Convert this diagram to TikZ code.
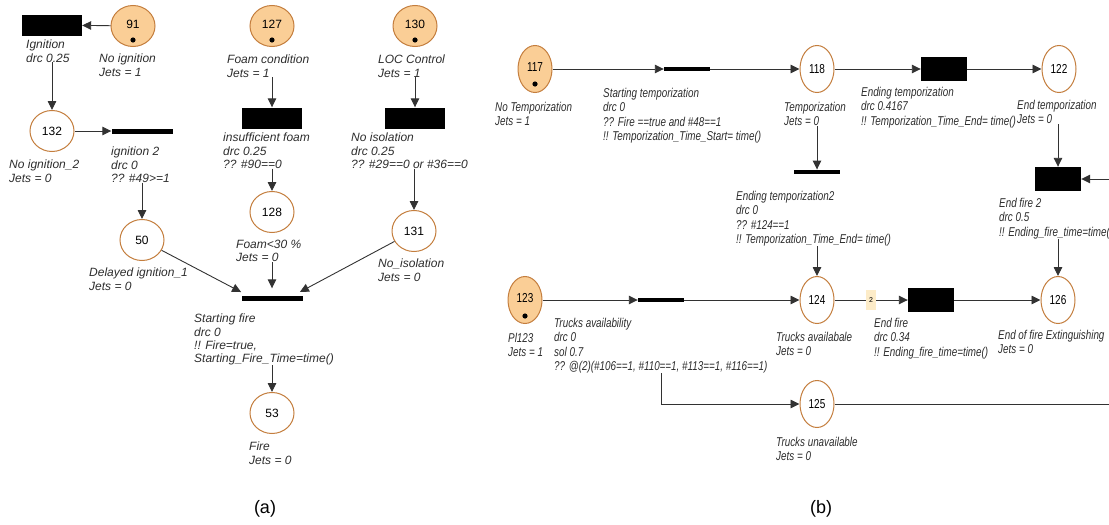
\documentclass[tikz,border=0pt]{standalone}
\usepackage{fontspec}
\setmainfont{Liberation Sans}
\newfontfamily\narrowsf[FakeStretch=0.77]{Liberation Sans}
\usetikzlibrary{shapes.geometric,arrows.meta}
\definecolor{placeline}{RGB}{196,126,62}
\definecolor{placefill}{RGB}{250,206,150}
\definecolor{arcgray}{RGB}{50,50,50}
\definecolor{txtgray}{RGB}{45,45,45}
\definecolor{wtfill}{RGB}{253,236,200}

\begin{document}
\begin{tikzpicture}[x=1pt,y=-1pt,
  arc/.style={draw=arcgray,line width=0.9pt,-{Triangle[length=9pt,width=8.5pt]}},
  place node/.style={ellipse,draw=placeline,line width=1pt,fill=white,minimum width=44pt,minimum height=41pt,inner sep=0pt,font=\fontsize{12}{14}\selectfont},
  tall place/.style={place node,minimum width=34pt,minimum height=47pt,font=\narrowsf\fontsize{13}{14}\selectfont},
  box node/.style={fill=black,minimum width=60pt,minimum height=21pt,inner sep=0pt},
  bar node/.style={fill=black,minimum width=61pt,minimum height=5pt,inner sep=0pt},
  small box/.style={box node,minimum width=46pt,minimum height=24pt},
  small bar/.style={bar node,minimum width=46pt,minimum height=4.5pt},
  text node/.style={anchor=north west,inner sep=0pt,align=left,text=txtgray,font=\fontsize{12}{13.2}\selectfont\itshape},
  narrow text/.style={text node,font=\narrowsf\fontsize{12.8}{14.3}\selectfont\itshape},
  weight node/.style={fill=wtfill,minimum width=10pt,minimum height=20pt,inner sep=0pt,font=\fontsize{7}{8}\selectfont},
  caption node/.style={font=\fontsize{18}{20}\selectfont}]

\useasboundingbox (0,0) rectangle (1109,525);
\clip (0,0) rectangle (1109,525);

% (a)
\node[box node] (t1) at (52,25) {};
\node[text node] (l1) at (26,40) {Ignition\\drc 0.25};
\node[place node,fill=placefill] (91) at (133,26) {\raisebox{3pt}{91}};
\node[text node] (l91) at (99,54) {No ignition\\Jets = 1};
\node[place node] (132) at (52,131) {132};
\node[text node] (l132) at (9,160) {No ignition\_2\\Jets = 0};
\node[bar node] (t2) at (142,131) {};
\node[text node] (l2) at (111,147) {ignition 2\\drc 0\\?? \#49>=1};
\node[place node] (50) at (142,240) {50};
\node[text node] (l50) at (89,268) {Delayed ignition\_1\\Jets = 0};
\node[place node,fill=placefill] (127) at (272,26) {\raisebox{3pt}{127}};
\node[text node] (l127) at (227,55) {Foam condition\\Jets = 1};
\node[box node] (t3) at (272,118) {};
\node[text node] (l3) at (223,133) {insufficient foam\\drc 0.25\\?? \#90==0};
\node[place node] (128) at (272,212) {128};
\node[text node] (l128) at (236,240) {Foam<30 \%\\Jets = 0};
\node[place node,fill=placefill] (130) at (415,26) {\raisebox{3pt}{130}};
\node[text node] (l130) at (378,55) {LOC Control\\Jets = 1};
\node[box node] (t4) at (415,118) {};
\node[text node] (l4) at (351,133) {No isolation\\drc 0.25\\?? \#29==0 or \#36==0};
\node[place node] (131) at (414,231) {131};
\node[text node] (l131) at (378,259) {No\_isolation\\Jets = 0};
\node[bar node] (t5) at (272,298) {};
\node[text node] (l5) at (194,314) {Starting fire\\drc 0\\!! Fire=true,\\Starting\_Fire\_Time=time()};
\node[place node] (53) at (272,413) {53};
\node[text node] (l53) at (249,442) {Fire\\Jets = 0};
\node[caption node] (capa) at (265,509) {(a)};

\fill (91) ++(0,14) circle (2.6pt);
\fill (127) ++(0,14) circle (2.6pt);
\fill (130) ++(0,14) circle (2.6pt);

\draw[arc] (91) -- (t1);
\draw[arc] (l1.south -| t1) -- (132);
\draw[arc] (132) -- (t2);
\draw[arc] (l2.south -| t2) -- (50);
\draw[arc] (l127.south -| t3) -- (t3);
\draw[arc] (l3.south -| t3) -- (128);
\draw[arc] (l130.south -| t4) -- (t4);
\draw[arc] (l4.south -| 131) -- (131);
\draw[arc,shorten >=7pt] (50) -- ([xshift=6pt]t5.north west);
\draw[arc,shorten >=7pt] (l128.south -| t5) -- (t5);
\draw[arc,shorten >=7pt] (131) -- ([xshift=-9pt]t5.north east);
\draw[arc] (l5.south -| t5) -- (53);

% (b)
\node[tall place,fill=placefill] (117) at (535,69) {\raisebox{4pt}{117}};
\node[narrow text] (l117) at (495,102) {No Temporization\\Jets = 1};
\node[small bar] (t6) at (687,69) {};
\node[narrow text] (l6) at (603,88) {Starting temporization\\drc 0\\?? Fire ==true and \#48==1\\!! Temporization\_Time\_Start= time()};
\node[tall place] (118) at (817,69) {118};
\node[narrow text] (l118) at (784,102) {Temporization\\Jets = 0};
\node[small box] (t7) at (944,69) {};
\node[narrow text] (l7) at (861,87) {Ending temporization\\drc 0.4167\\!! Temporization\_Time\_End= time()};
\node[tall place] (122) at (1059,69) {122};
\node[narrow text] (l122) at (1017,100) {End temporization\\Jets = 0};
\node[small bar] (t8) at (817,172) {};
\node[narrow text] (l8) at (736,191) {Ending temporization2\\drc 0\\?? \#124==1\\!! Temporization\_Time\_End= time()};
\node[small box] (t9) at (1058,179) {};
\node[narrow text] (l9) at (999,198) {End fire 2\\drc 0.5\\!! Ending\_fire\_time=time()};
\node[tall place,fill=placefill] (123) at (525,300) {\raisebox{4pt}{123}};
\node[narrow text] (l123) at (508,333) {Pl123\\Jets = 1};
\node[small bar] (t10) at (661,300) {};
\node[narrow text] (l10) at (554,318) {Trucks availability\\drc 0\\sol 0.7\\?? @(2)(\#106==1, \#110==1, \#113==1, \#116==1)};
\node[tall place] (124) at (817,300) {124};
\node[narrow text] (l124) at (776,332) {Trucks availabale\\Jets = 0};
\node[small box] (t11) at (931,300) {};
\node[narrow text] (l11) at (874,318) {End fire\\drc 0.34\\!! Ending\_fire\_time=time()};
\node[tall place] (126) at (1058,300) {126};
\node[narrow text] (l126) at (998,330) {End of fire Extinguishing\\Jets = 0};
\node[tall place] (125) at (817,404) {125};
\node[narrow text] (l125) at (776,437) {Trucks unavailable\\Jets = 0};
\node[caption node] (capb) at (821,509) {(b)};
\coordinate (in9) at (1125,179);
\coordinate (out125) at (1135,404);

\fill (117) ++(0,15) circle (2.6pt);
\fill (123) ++(0,16) circle (2.6pt);

\draw[arc] (117) -- (t6);
\draw[arc] (t6) -- (118);
\draw[arc] (118) -- (t7);
\draw[arc] (t7) -- (122);
\draw[arc] (l118.south -| t8) -- (t8);
\draw[arc] (l8.south -| t8) -- (124);
\draw[arc] (l122.south -| t9) -- (t9);
\draw[arc] (in9) -- (t9);
\draw[arc] (l9.south -| t9) -- (126);
\draw[arc] (123) -- (t10);
\draw[arc] (t10) -- (124);
\draw[arc] (l10.south -| t10) |- (125);
\draw[arc] (124) -- node[weight node] {2} (t11);
\draw[arc] (t11) -- (126);
\draw[arc] (125) -- (out125);
\end{tikzpicture}
\end{document}
